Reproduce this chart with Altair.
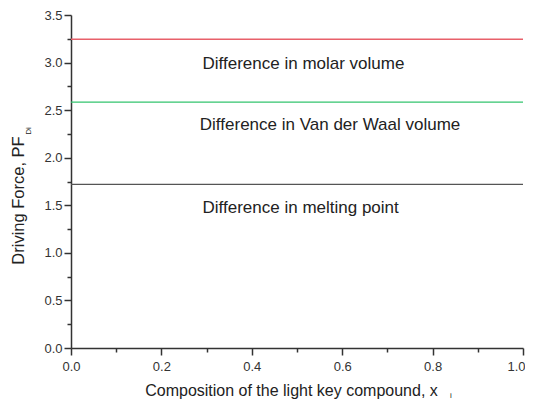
import altair as alt
import pandas as pd

# data
series = ["Difference in molar volume", "Difference in Van der Waal volume", "Difference in melting point"]
pf_values = [3.245, 2.585, 1.72]
x_ends = [0.0, 1.0]
line_colors = ["#e8606a", "#33c46e", "#555555"]

ann_text = ["Difference in molar volume", "Difference in Van der Waal volume", "Difference in melting point"]
ann_x = [0.291, 0.285, 0.291]
ann_y = [2.99, 2.345, 1.47]

x_major = [0.0, 0.2, 0.4, 0.6, 0.8, 1.0]
x_minor = [0.1, 0.3, 0.5, 0.7, 0.9]
y_major = [0.0, 0.5, 1.0, 1.5, 2.0, 2.5, 3.0, 3.5]
y_minor = [0.25, 0.75, 1.25, 1.75, 2.25, 2.75, 3.25]

rows = []
for s, v in zip(series, pf_values):
    for xv in x_ends:
        rows.append({"series": s, "x": xv, "pf": v})
df = pd.DataFrame(rows)
ann = pd.DataFrame({"text": ann_text, "x": ann_x, "y": ann_y})

xs = alt.Scale(domain=[0, 1], nice=False)
ys = alt.Scale(domain=[0, 3.5], nice=False)
FONT = "Liberation Sans"
AX = "#333333"

lines = alt.Chart(df).mark_line(strokeWidth=1.3).encode(
    x=alt.X("x:Q", scale=xs, axis=alt.Axis(
        values=x_major, format=".1f", tickSize=7, tickWidth=1.5, domainWidth=1.5,
        domainColor=AX, tickColor=AX, labelColor="#333", labelFontSize=13, labelFont=FONT,
        labelPadding=5, labelFlush=False, grid=False, orient="bottom",
        labelAlign={"condition": {"test": "datum.value >= 1", "value": "right"}, "value": "center"},
        labelOffset={"condition": {"test": "datum.value >= 1", "value": 2}, "value": 0},
        title="Composition of the light key compound, x", titleFont=FONT, titleFontSize=16,
        titleFontWeight="normal", titleColor="#222", titleX=220, titleY=47,
        titleAlign="center", titleBaseline="alphabetic")),
    y=alt.Y("pf:Q", scale=ys, axis=alt.Axis(
        values=y_major, format=".1f", tickSize=7, tickWidth=1.5, domainWidth=1.5,
        domainColor=AX, tickColor=AX, labelColor="#333", labelFontSize=13, labelFont=FONT,
        labelPadding=2, labelFlush=False, grid=False, orient="left",
        title="Driving Force, PF", titleFont=FONT, titleFontSize=16.5,
        titleFontWeight="normal", titleColor="#222", titleX=-48, titleY=185,
        titleAlign="center", titleBaseline="alphabetic", titleAngle=270)),
    color=alt.Color("series:N", scale=alt.Scale(domain=series, range=line_colors), legend=None),
)

minor = alt.Chart(df).mark_line(opacity=0).encode(
    x=alt.X("x:Q", scale=xs, axis=alt.Axis(
        values=x_minor, labels=False, tickSize=4, tickWidth=1.5, domain=False,
        tickColor=AX, grid=False, title="", orient="bottom")),
    y=alt.Y("pf:Q", scale=ys, axis=alt.Axis(
        values=y_minor, labels=False, tickSize=4, tickWidth=1.5, domain=False,
        tickColor=AX, grid=False, title="", orient="left")),
)

texts = alt.Chart(ann).mark_text(
    align="left", baseline="middle", fontSize=17, font=FONT, color="#222"
).encode(
    x=alt.X("x:Q", scale=xs, axis=None),
    y=alt.Y("y:Q", scale=ys, axis=None),
    text="text:N",
)

sub_y = alt.Chart(pd.DataFrame({"t": ["Di"]})).mark_text(
    fontSize=8, font=FONT, color="#222", angle=270, align="center", baseline="middle"
).encode(x=alt.value(-42), y=alt.value(116), text="t:N")

sub_x = alt.Chart(pd.DataFrame({"t": ["i"]})).mark_text(
    fontSize=8, font=FONT, color="#222", align="center", baseline="alphabetic"
).encode(x=alt.value(380), y=alt.value(383), text="t:N")

chart = alt.layer(lines, minor, texts, sub_y, sub_x).resolve_axis(
    x="independent", y="independent"
).properties(
    width=452, height=333,
    autosize=alt.AutoSizeParams(type="none"),
    padding={"left": 63, "top": 7, "right": 2, "bottom": 51},
).configure_view(stroke=None)

chart.save("out.html", embed_options={"renderer": "svg", "actions": False})
